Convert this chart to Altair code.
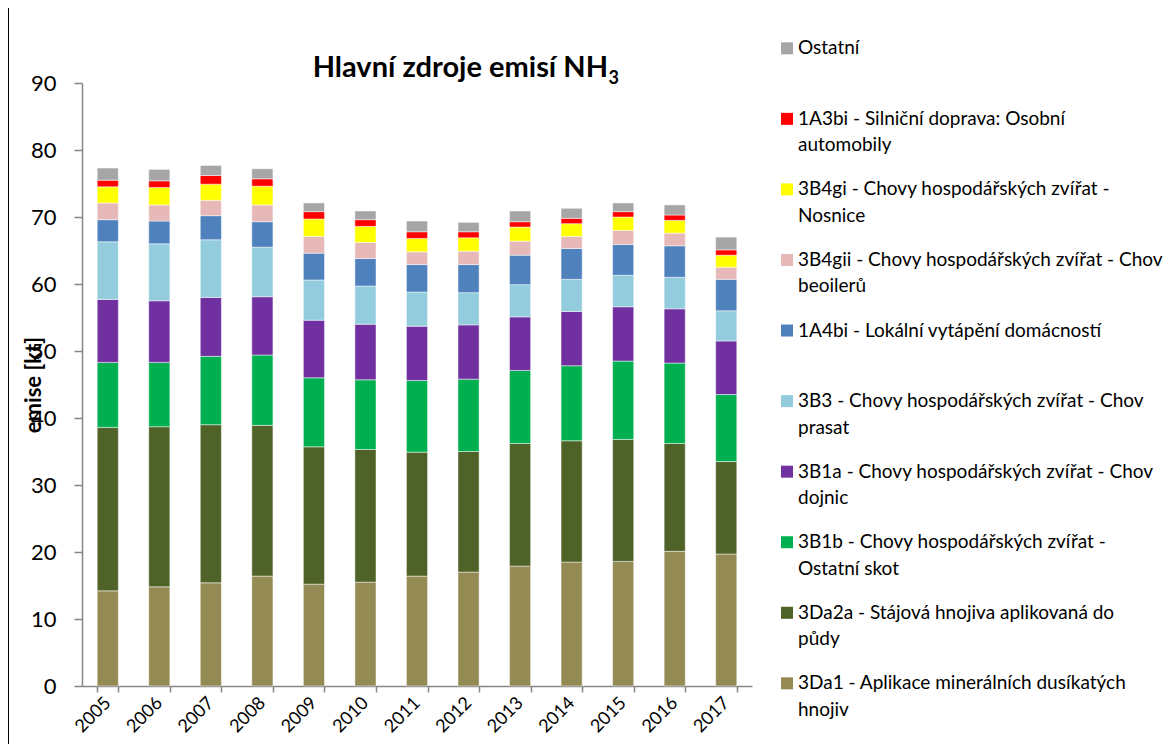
import altair as alt
import pandas as pd

years = ["2005", "2006", "2007", "2008", "2009", "2010", "2011", "2012", "2013", "2014", "2015", "2016", "2017"]

series = [
    "3Da1 - Aplikace minerálních dusíkatých hnojiv",
    "3Da2a - Stájová hnojiva aplikovaná do půdy",
    "3B1b - Chovy hospodářských zvířat - Ostatní skot",
    "3B1a - Chovy hospodářských zvířat - Chov dojnic",
    "3B3 - Chovy hospodářských zvířat - Chov prasat",
    "1A4bi - Lokální vytápění domácností",
    "3B4gii - Chovy hospodářských zvířat - Chov beoilerů",
    "3B4gi - Chovy hospodářských zvířat - Nosnice",
    "1A3bi - Silniční doprava: Osobní automobily",
    "Ostatní",
]
legend_line1 = [
    "3Da1 - Aplikace minerálních dusíkatých",
    "3Da2a - Stájová hnojiva aplikovaná do",
    "3B1b - Chovy hospodářských zvířat -",
    "3B1a - Chovy hospodářských zvířat - Chov",
    "3B3 - Chovy hospodářských zvířat - Chov",
    "1A4bi - Lokální vytápění domácností",
    "3B4gii - Chovy hospodářských zvířat - Chov",
    "3B4gi - Chovy hospodářských zvířat -",
    "1A3bi - Silniční doprava: Osobní",
    "Ostatní",
]
legend_line2 = ["hnojiv", "půdy", "Ostatní skot", "dojnic", "prasat", "", "beoilerů", "Nosnice", "automobily", ""]

colors = ["#948A54", "#4F6228", "#00B050", "#7030A0", "#93CDDD",
          "#4F81BD", "#E6B9B8", "#FFFF00", "#FF0000", "#A6A6A6"]

v_3Da1   = [14.2, 14.8, 15.4, 16.4, 15.2, 15.5, 16.4, 17.0, 17.9, 18.5, 18.6, 20.1, 19.7]
v_3Da2a  = [24.4, 23.9, 23.6, 22.5, 20.5, 19.8, 18.5, 18.0, 18.3, 18.1, 18.2, 16.1, 13.8]
v_3B1b   = [9.7, 9.6, 10.2, 10.5, 10.3, 10.4, 10.7, 10.8, 10.9, 11.2, 11.7, 12.0, 10.0]
v_3B1a   = [9.4, 9.2, 8.8, 8.7, 8.6, 8.3, 8.1, 8.1, 8.0, 8.1, 8.1, 8.1, 8.0]
v_3B3    = [8.6, 8.5, 8.6, 7.4, 6.0, 5.7, 5.1, 4.8, 4.8, 4.8, 4.7, 4.7, 4.5]
v_1A4bi  = [3.3, 3.4, 3.6, 3.8, 4.0, 4.1, 4.1, 4.2, 4.4, 4.6, 4.6, 4.7, 4.7]
v_3B4gii = [2.5, 2.4, 2.3, 2.5, 2.5, 2.4, 1.9, 2.0, 2.1, 1.8, 2.1, 1.9, 1.8]
v_3B4gi  = [2.4, 2.6, 2.4, 2.8, 2.6, 2.4, 2.0, 2.0, 2.1, 1.9, 2.0, 1.9, 1.8]
v_1A3bi  = [1.0, 1.0, 1.3, 1.1, 1.1, 1.0, 1.0, 0.9, 0.8, 0.8, 0.8, 0.8, 0.8]
v_ost    = [1.8, 1.7, 1.5, 1.5, 1.3, 1.3, 1.6, 1.4, 1.6, 1.5, 1.3, 1.5, 1.9]

values = [v_3Da1, v_3Da2a, v_3B1b, v_3B1a, v_3B3, v_1A4bi, v_3B4gii, v_3B4gi, v_1A3bi, v_ost]

title_main = "Hlavní zdroje emisí NH"
title_sub = "3"
y_title = "emise [kt]"

FONT = "Lato"

rows = []
for i, (s, vals) in enumerate(zip(series, values)):
    for y, v in zip(years, vals):
        rows.append({"year": y, "series": s, "value": v, "idx": i})
df = pd.DataFrame(rows)

W, H = 670, 603

bars = alt.Chart(df).mark_bar(stroke="#ffffff", strokeWidth=0.8, strokeOpacity=0.6).encode(
    x=alt.X("year:O", sort=years, title=None,
            scale=alt.Scale(paddingInner=0.59, paddingOuter=0.295),
            axis=alt.Axis(labelAngle=315, labelAlign="right", labelBaseline="middle",
                          labelFont=FONT, labelFontSize=18, labelColor="#000000",
                          labelPadding=8, tickBand="extent", tickSize=6,
                          tickColor="#868686", domainColor="#868686", domainWidth=1.5,
                          tickWidth=1.5, grid=False)),
    y=alt.Y("value:Q", stack="zero",
            scale=alt.Scale(domain=[0, 90], nice=False),
            axis=alt.Axis(values=list(range(0, 91, 10)), title=y_title,
                          titleFont=FONT, titleFontSize=22, titleFontWeight="bold",
                          titleColor="#000000", titleAngle=270, titleX=-49, titleY=H / 2,
                          titleAlign="center", titleBaseline="middle",
                          labelFont=FONT, labelFontSize=22, labelColor="#000000",
                          labelPadding=18, tickSize=8, tickColor="#868686", tickWidth=1.5,
                          domainColor="#868686", domainWidth=1.5, grid=False)),
    color=alt.Color("series:N", scale=alt.Scale(domain=series, range=colors), legend=None),
    order=alt.Order("idx:Q", sort="ascending"),
)

# legend (custom, one entry per series, top to bottom reversed stack order)
leg_rows = []
n = len(series)
for k in range(n):
    i = n - 1 - k
    leg_rows.append({"series": series[i], "l1": legend_line1[i], "l2": legend_line2[i],
                     "py": -28.7 + k * 70.56})
leg_df = pd.DataFrame(leg_rows)

leg_sq = alt.Chart(leg_df).mark_square(size=144, opacity=1, yOffset=-6).encode(
    x=alt.value(705),
    y=alt.Y("py:Q", scale=None, axis=None),
    color=alt.Color("series:N", scale=alt.Scale(domain=series, range=colors), legend=None),
)
leg_t1 = alt.Chart(leg_df).mark_text(align="left", baseline="alphabetic", font=FONT,
                                     fontSize=19, color="#000000").encode(
    x=alt.value(716),
    y=alt.Y("py:Q", scale=None, axis=None),
    text="l1:N",
)
leg_t2 = alt.Chart(leg_df).mark_text(align="left", baseline="alphabetic", font=FONT,
                                     fontSize=19, color="#000000", dy=26.5).encode(
    x=alt.value(716),
    y=alt.Y("py:Q", scale=None, axis=None),
    text="l2:N",
)

tdf = pd.DataFrame({"main": [title_main], "sub": [title_sub]})
t_main = alt.Chart(tdf).mark_text(align="right", baseline="alphabetic", font=FONT,
                                  fontSize=29, fontWeight="bold", color="#000000").encode(
    x=alt.value(526), y=alt.value(-6), text="main:N")
t_sub = alt.Chart(tdf).mark_text(align="left", baseline="alphabetic", font=FONT,
                                 fontSize=18, fontWeight="bold", color="#000000").encode(
    x=alt.value(526.5), y=alt.value(0.5), text="sub:N")

frame = alt.Chart(tdf).mark_rule(color="#000000", strokeWidth=1).encode(
    x=alt.value(-73.5), y=alt.value(-75), y2=alt.value(661))

chart = alt.layer(frame, bars, leg_sq, leg_t1, leg_t2, t_main, t_sub).properties(
    width=W, height=H,
    background="#ffffff",
    autosize=alt.AutoSizeParams(type="none"),
    padding={"left": 74, "top": 75, "right": 411, "bottom": 58},
).configure_view(stroke=None, strokeWidth=0)

chart.save("out.html", embed_options={"renderer": "svg", "actions": False})
